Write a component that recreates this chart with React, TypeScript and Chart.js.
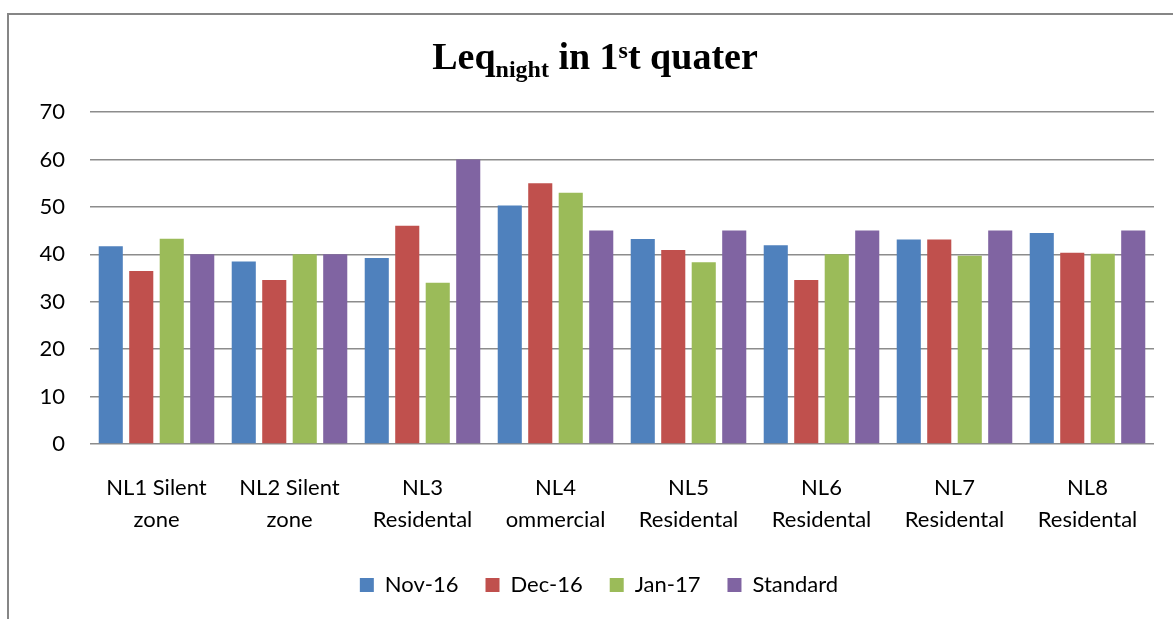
import React, { useEffect, useRef } from "react";
import { Chart, registerables } from "chart.js";

Chart.register(...registerables);

const categories: string[][] = [
  ["NL1 Silent", "zone"],
  ["NL2 Silent", "zone"],
  ["NL3", "Residental"],
  ["NL4", "ommercial"],
  ["NL5", "Residental"],
  ["NL6", "Residental"],
  ["NL7", "Residental"],
  ["NL8", "Residental"],
];
const seriesNames = ["Nov-16", "Dec-16", "Jan-17", "Standard"];
const nov16 = [41.7, 38.5, 39.2, 50.3, 43.2, 41.9, 43.1, 44.5];
const dec16 = [36.5, 34.6, 46.0, 55.0, 40.9, 34.6, 43.1, 40.3];
const jan17 = [43.3, 40.0, 34.0, 53.0, 38.3, 40.0, 39.7, 40.1];
const standard = [40, 40, 60, 45, 45, 45, 45, 45];
const yMin = 0;
const yMax = 70;
const yStep = 10;

const colors = ["#4F81BD", "#C0504D", "#9BBB59", "#8064A2"];
const labelFont = "Lato";

const framePlugin = {
  id: "frame",
  beforeDraw(chart: any) {
    const ctx = chart.ctx;
    ctx.save();
    ctx.fillStyle = "#ffffff";
    ctx.fillRect(0, 0, chart.width, chart.height);
    ctx.strokeStyle = "#868686";
    ctx.lineWidth = 2;
    ctx.strokeRect(8, 14, chart.width + 20, chart.height + 20);
    ctx.restore();
  },
};

const legendShiftPlugin = {
  id: "legendShift",
  afterLayout(chart: any) {
    if (chart.legend) {
      chart.legend.left += 44;
    }
  },
};

const richTitlePlugin = {
  id: "richTitle",
  afterDraw(chart: any) {
    const ctx = chart.ctx;
    ctx.save();
    const big = 'bold 38px "Liberation Serif"';
    const small = 'bold 24px "Liberation Serif"';
    const parts = [
      { t: "Leq", f: big, dy: 0 },
      { t: "night", f: small, dy: 8 },
      { t: " in 1", f: big, dy: 0 },
      { t: "s", f: small, dy: -11 },
      { t: "t quater", f: big, dy: 0 },
    ];
    let total = 0;
    const widths = parts.map((p) => {
      ctx.font = p.f;
      const w = ctx.measureText(p.t).width;
      total += w;
      return w;
    });
    let x = 595 - total / 2;
    const baseline = 69;
    ctx.fillStyle = "#000000";
    ctx.textAlign = "left";
    ctx.textBaseline = "alphabetic";
    parts.forEach((p, i) => {
      ctx.font = p.f;
      ctx.fillText(p.t, x, baseline + p.dy);
      x += widths[i];
    });
    ctx.restore();
  },
};

function App() {
  const canvasRef = useRef<HTMLCanvasElement | null>(null);

  useEffect(() => {
    if (!canvasRef.current) return;
    const values = [nov16, dec16, jan17, standard];
    const chart = new Chart(canvasRef.current, {
      type: "bar",
      data: {
        labels: categories,
        datasets: seriesNames.map((name, i) => ({
          label: name,
          data: values[i],
          backgroundColor: colors[i],
          borderWidth: 0,
          categoryPercentage: 0.917,
          barPercentage: 0.79,
        })),
      },
      options: {
        animation: false,
        responsive: false,
        devicePixelRatio: 1,
        layout: { padding: { left: 0, right: 19, top: 112, bottom: 13 } },
        plugins: {
          title: { display: false },
          tooltip: { enabled: false },
          legend: {
            position: "bottom",
            labels: {
              boxWidth: 14,
              boxHeight: 14,
              padding: 27,
              color: "#000000",
              font: { family: labelFont, size: 22 },
            },
          },
        },
        scales: {
          x: {
            grid: { display: false, drawTicks: false },
            border: { display: false },
            ticks: {
              color: "#000000",
              padding: 28,
              maxRotation: 0,
              autoSkip: false,
              font: { family: labelFont, size: 22, lineHeight: 1.45 },
            },
            afterFit(scale: any) {
              scale.height = 103;
            },
          },
          y: {
            min: yMin,
            max: yMax,
            ticks: {
              stepSize: yStep,
              color: "#000000",
              padding: 25,
              font: { family: labelFont, size: 22 },
            },
            grid: { color: "#8c8c8c", lineWidth: 1.5, drawTicks: false },
            border: { display: false },
            afterFit(scale: any) {
              scale.width = 90;
            },
          },
        },
      },
      plugins: [framePlugin, legendShiftPlugin, richTitlePlugin],
    });
    return () => chart.destroy();
  }, []);

  return (
    <div style={{ position: "fixed", left: 0, top: 0, width: 1173, height: 619 }}>
      <canvas ref={canvasRef} width={1173} height={619} style={{ display: "block" }} />
    </div>
  );
}

export default App;
